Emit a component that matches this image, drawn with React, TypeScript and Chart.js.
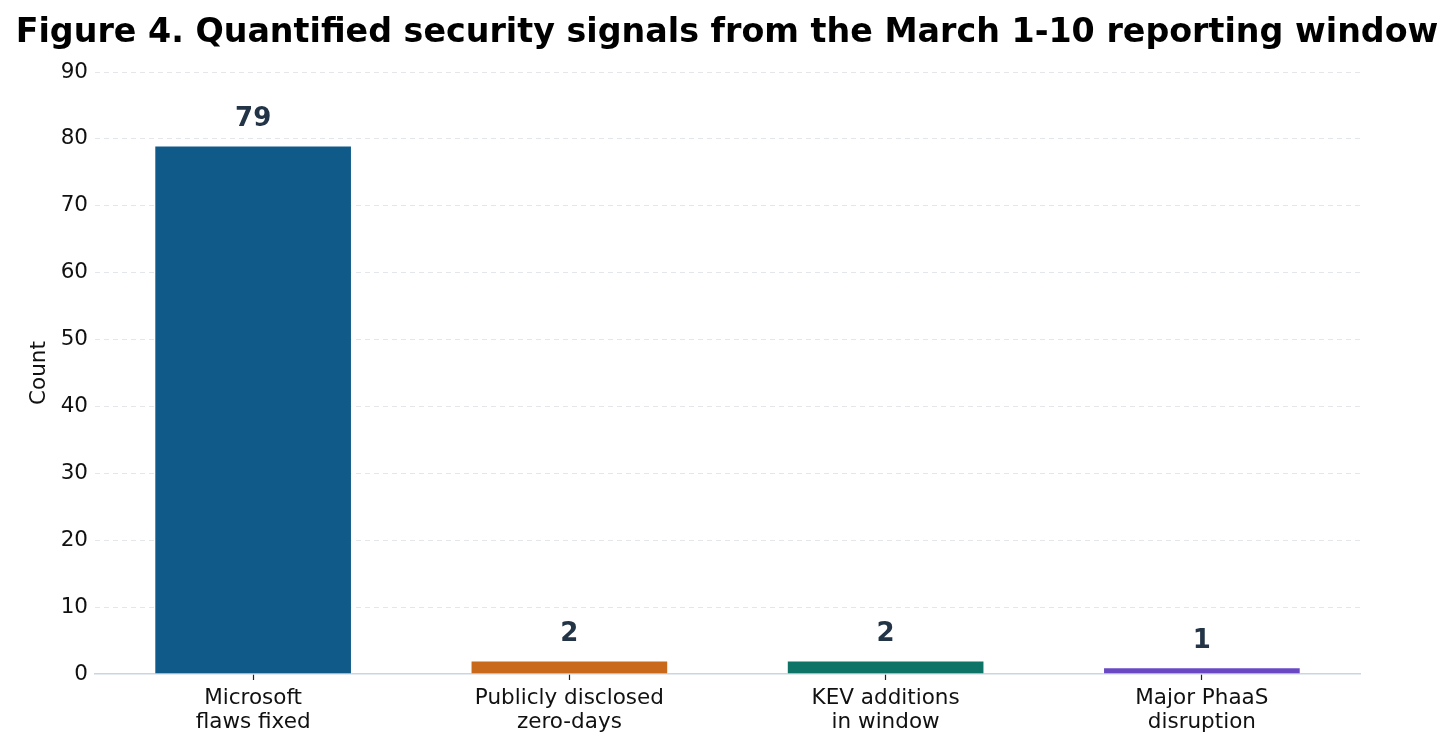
import React, { useEffect, useRef } from "react";
import { Chart, registerables } from "chart.js";

Chart.register(...registerables);

const TITLE = "Figure 4. Quantified security signals from the March 1-10 reporting window";
const categories: string[][] = [
  ["Microsoft", "flaws fixed"],
  ["Publicly disclosed", "zero-days"],
  ["KEV additions", "in window"],
  ["Major PhaaS", "disruption"],
];
const values: number[] = [79, 2, 2, 1];
const barColors: string[] = ["#105a89", "#c8691b", "#0e7468", "#6a48c4"];
const yTicks: number[] = [0, 10, 20, 30, 40, 50, 60, 70, 80, 90];
const Y_LABEL = "Count";

const FONT = "'DejaVu Sans', sans-serif";

const valueLabelPlugin = {
  id: "valueLabels",
  afterDatasetsDraw(chart: any) {
    const ctx = chart.ctx;
    const meta = chart.getDatasetMeta(0);
    ctx.save();
    ctx.font = `bold 26px ${FONT}`;
    ctx.fillStyle = "#233447";
    ctx.textAlign = "center";
    ctx.textBaseline = "middle";
    meta.data.forEach((bar: any, i: number) => {
      ctx.fillText(String(values[i]), bar.x, bar.y - 26);
    });
    ctx.restore();
  },
};

const titlePlugin = {
  id: "figTitle",
  afterDraw(chart: any) {
    const ctx = chart.ctx;
    ctx.save();
    ctx.font = `bold 33.3px ${FONT}`;
    ctx.fillStyle = "#000000";
    ctx.textAlign = "center";
    ctx.textBaseline = "alphabetic";
    ctx.fillText(TITLE, 727, 42);
    ctx.restore();
  },
};

export default function App() {
  const ref = useRef<HTMLCanvasElement | null>(null);
  useEffect(() => {
    document.body.style.margin = "0";
    const canvas = ref.current!;
    const chart = new Chart(canvas, {
      type: "bar",
      data: {
        labels: categories,
        datasets: [
          {
            data: values,
            backgroundColor: barColors,
            borderColor: "rgba(255,255,255,0.6)",
            borderWidth: 1,
            categoryPercentage: 0.625,
            barPercentage: 1,
          },
        ],
      },
      options: {
        animation: false,
        responsive: false,
        devicePixelRatio: 1,
        layout: { padding: { left: 0, right: 96, top: 72, bottom: 0 } },
        plugins: {
          legend: { display: false },
          tooltip: { enabled: false },
          title: { display: false },
        },
        scales: {
          x: {
            afterFit: (s: any) => {
              s.height = 78;
            },
            border: { display: true, color: "#cbd5e1", width: 1.5 },
            grid: {
              display: true,
              offset: false,
              drawOnChartArea: false,
              drawTicks: true,
              tickLength: 6,
              color: "#222222",
              tickWidth: 1.2,
            },
            ticks: {
              color: "#111111",
              padding: 7,
              font: { family: FONT, size: 21.5, lineHeight: 1.1 },
              maxRotation: 0,
              autoSkip: false,
            },
          },
          y: {
            min: 0,
            max: 90,
            afterFit: (s: any) => {
              s.width = 95;
            },
            afterBuildTicks: (s: any) => {
              s.ticks = yTicks.map((v) => ({ value: v }));
            },
            grid: {
              drawTicks: false,
              color: (c: any) => (c.tick && c.tick.value === 0 ? "rgba(0,0,0,0)" : "#e3e6ea"),
              lineWidth: 1,
            },
            border: { display: false, dash: [5, 4] } as any,
            ticks: {
              color: "#111111",
              padding: 7,
              font: { family: FONT, size: 21.5 },
            },
            title: {
              display: true,
              text: Y_LABEL,
              color: "#111111",
              font: { family: FONT, size: 21.5, lineHeight: 1.2 },
              padding: { top: 27, bottom: 0 },
            },
          },
        },
      },
      plugins: [valueLabelPlugin, titlePlugin],
    } as any);
    return () => chart.destroy();
  }, []);
  return <canvas ref={ref} width={1456} height={752} style={{ display: "block" }} />;
}
